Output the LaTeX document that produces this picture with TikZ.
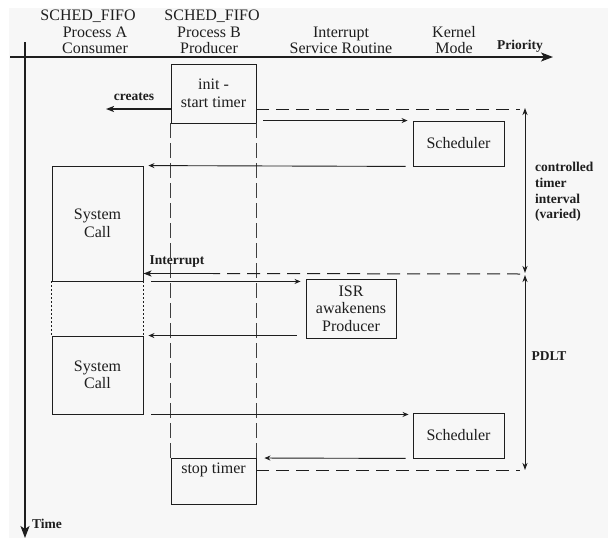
\documentclass[tikz,border=0pt]{standalone}
\usepackage{fontspec}
\setmainfont{Liberation Serif}
\usetikzlibrary{arrows.meta}
\usetikzlibrary{calc}

\definecolor{bggray}{HTML}{F7F7F7}
\definecolor{ink}{HTML}{1E1E1E}

\begin{document}
\begin{tikzpicture}[x=1pt, y=-1pt,
    every node/.style={inner sep=0pt, text=ink},
    box/.style={draw=ink, line width=0.9pt, align=center, font=\fontsize{16}{17.5}\selectfont},
    head/.style={align=center, font=\fontsize{16}{16}\selectfont},
    tag/.style={align=left, font=\fontsize{13.5}{15.7}\selectfont\bfseries},
    axis/.style={draw=ink, line width=1.8pt, -{Stealth[length=12pt, width=9pt, inset=3pt]}},
    msg/.style={draw=ink, line width=0.9pt, -{Stealth[length=6pt, width=5pt, inset=2pt]}},
    hit/.style={draw=ink, line width=1.6pt, -{Stealth[length=8pt, width=6pt, inset=2pt]}},
    span/.style={draw=ink, line width=1pt, {Stealth[length=7pt, width=5pt, inset=2pt]}-{Stealth[length=7pt, width=5pt, inset=2pt]}},
    timeline/.style={draw=ink, line width=1pt, dash pattern=on 13pt off 7pt},
    lifeline/.style={draw=ink!85, line width=0.8pt, dash pattern=on 15pt off 5pt},
    gapline/.style={draw=ink, line width=0.9pt, dash pattern=on 2pt off 2pt}]

        \useasboundingbox (0,0) rectangle (608,541);
        \fill[bggray] (9,8) rectangle (608,538);

        % column heads
        \node[head] (fifoA) at (88,16) {SCHED\_FIFO};
        \node[head] (procA) at (95,40) {Process A\\Consumer};
        \node[head] (fifoB) at (212,16) {SCHED\_FIFO};
        \node[head] (procB) at (209,40) {Process B\\Producer};
        \node[head] (isrhead) at (341,40) {Interrupt\\Service Routine};
        \node[head] (kernel) at (454,40) {Kernel\\Mode};
        \node[tag] (prio) at (520,46) {Priority};

        % axes
        \coordinate (pstart) at (10,57);
        \coordinate (pend) at (553,57);
        \coordinate (tstart) at (25,42);
        \coordinate (tend) at (25,538);
        \draw[axis] (pstart) -- (pend);
        \draw[axis] (tstart) -- (tend);
        \node[tag] (time) at (47,524) {Time};

        % boxes
        \node[box, minimum width=85, minimum height=59] (init) at (213.5,93.5) {init -\\start timer};
        \node[box, minimum width=91, minimum height=45] (sched1) at (458.5,143.5) {Scheduler};
        \node[box, minimum width=91, minimum height=115] (sys1) at (97.5,223.5) {System\\Call};
        \node[box, minimum width=90, minimum height=59] (isr) at (351,308.5) {ISR\\awakenens\\Producer};
        \node[box, minimum width=91, minimum height=78] (sys2) at (97.5,375) {System\\Call};
        \node[box, minimum width=91, minimum height=45] (sched2) at (458.5,435.5) {Scheduler};
        \node[box, minimum width=85, minimum height=46, text depth=26pt, anchor=north] (stop) at (213.5,458) {stop timer};

        % producer lifeline
        \foreach \s in {west, east} {
          \draw[lifeline] (init.south \s) -- (stop.north \s);
        }
        \draw[gapline] (sys1.south west) -- (sys2.north west);
        \draw[gapline] (sys1.south east) -- (sys2.north east);

        % timer marks
        \coordinate (t1) at (520,109);
        \coordinate (t2) at (520,274);
        \coordinate (t3) at (520,470);
        \coordinate (irq) at (213,273.5);
        \coordinate (cr) at (106,109);
        \draw[timeline] (init.east |- t1) -- (t1);
        \draw[timeline] (t2) -- (irq);
        \draw[timeline] (stop.east |- t3) -- (t3);

        \coordinate (m1) at (525,108);
        \coordinate (m2) at (525,274);
        \coordinate (m3) at (525,470);
        \draw[span, shorten >=1pt] (m1) -- (m2);
        \draw[span, shorten <=1pt] (m2) -- (m3);
        \node[tag, anchor=west] (ctl) at (535,192) {controlled\\timer\\interval\\(varied)};
        \node[tag] (pdlt) at (549,356) {PDLT};

        % messages
        \draw[hit] (init.west |- cr) -- (cr);
        \node[tag] (creates) at (134,97) {creates};
        \draw[msg, shorten <=7pt, shorten >=5pt] (init.east |- sched1.north) -- (sched1.north west);
        \draw[msg, shorten <=7pt, shorten >=5pt] (sched1.south west) -- (sys1.north east);
        \draw[hit] (irq) -- (sys1.east |- irq);
        \node[tag] (irqtag) at (177,262) {Interrupt};
        \draw[msg, shorten <=8pt, shorten >=5pt] (sys1.south east) -- (isr.west |- sys1.south);
        \draw[msg, shorten <=9pt, shorten >=5pt] (isr.west |- sys2.north) -- (sys2.north east);
        \draw[msg, shorten <=8pt, shorten >=4pt] (sys2.south east) -- (sched2.west |- sys2.south);
        \draw[msg, shorten <=7pt, shorten >=8pt] (sched2.south west) -- (stop.north east);

      \end{tikzpicture}
\end{document}
